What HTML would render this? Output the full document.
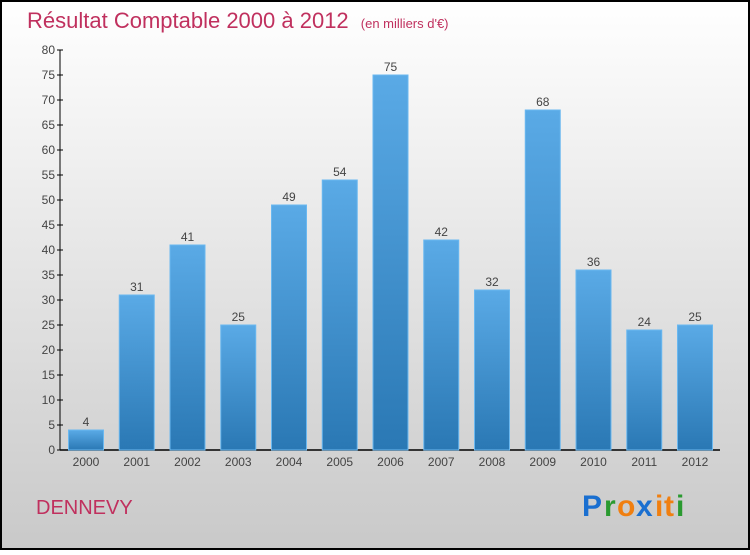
<!DOCTYPE html>
<html><head><meta charset="utf-8"><style>
body{margin:0;width:750px;height:550px;overflow:hidden;font-family:"Liberation Sans",sans-serif}
</style></head><body>
<svg width="750" height="550" xmlns="http://www.w3.org/2000/svg">
<defs>
<linearGradient id="bg" x1="0" y1="0" x2="0" y2="1"><stop offset="0" stop-color="#ffffff"/><stop offset="1" stop-color="#c9c9c9"/></linearGradient>
<linearGradient id="bar" x1="0" y1="0" x2="0" y2="1"><stop offset="0" stop-color="#5aaae6"/><stop offset="1" stop-color="#2a78b4"/></linearGradient>
</defs>
<rect x="1" y="1" width="748" height="548" fill="url(#bg)" stroke="#000" stroke-width="2"/>
<text x="27" y="28" font-size="22" fill="#c0305e">Résultat Comptable 2000 à 2012 <tspan font-size="13" dx="6">(en milliers d'€)</tspan></text>
<g id="axes"></g>
<g id="bars"></g>
<text x="36" y="514" font-size="20" fill="#c0305e">DENNEVY</text>
<g font-size="30" font-weight="bold">
<text x="582" y="516" fill="#1a6fd0">P</text><text x="604" y="516" fill="#2a9a30">r</text><text x="617" y="516" fill="#f07f10">o</text><text x="636" y="516" fill="#1a6fd0">x</text><text x="655" y="516" fill="#f07f10">i</text><text x="664" y="516" fill="#f07f10">t</text><text x="676" y="516" fill="#2a9a30">i</text>
</g>
</svg>
<script>
const categories=["2000","2001","2002","2003","2004","2005","2006","2007","2008","2009","2010","2011","2012"];
const values=[4,31,41,25,49,54,75,42,32,68,36,24,25];
const yTicks=[0,5,10,15,20,25,30,35,40,45,50,55,60,65,70,75,80];
const NS="http://www.w3.org/2000/svg";
const y=v=>450-v*5;
const x=i=>86+i*50.75;
const ax=document.getElementById('axes'),bg=document.getElementById('bars');
function mk(t,a,p){const e=document.createElementNS(NS,t);for(const k in a)e.setAttribute(k,a[k]);p.appendChild(e);return e;}
const yl=mk('line',{x1:60,y1:50,x2:60,y2:450,stroke:'#000'},ax);


const xl=mk('line',{x1:60,y1:450,x2:720,y2:450,stroke:'#000','stroke-width':1.5},ax);


yTicks.forEach(v=>{
  mk('line',{x1:57,y1:y(v),x2:63,y2:y(v),stroke:'#000'},ax);
  const t=mk('text',{x:55,y:y(v)+4,'font-size':12,fill:'#444','text-anchor':'end'},ax);
  t.textContent=v;
  
  
});
categories.forEach((c,i)=>{
  const r=mk('rect',{x:x(i)-17.5,y:y(values[i]),width:35,height:values[i]*5,fill:'url(#bar)',stroke:'#6ab8f0','stroke-width':1},bg);
  
  
  const v=mk('text',{x:x(i),y:y(values[i])-4,'font-size':12,fill:'#444','text-anchor':'middle'},bg);
  v.textContent=values[i];
  
  
  const l=mk('text',{x:x(i),y:466,'font-size':12,fill:'#444','text-anchor':'middle'},bg);
  l.textContent=c;
  
  
});
</script>
</body></html>
